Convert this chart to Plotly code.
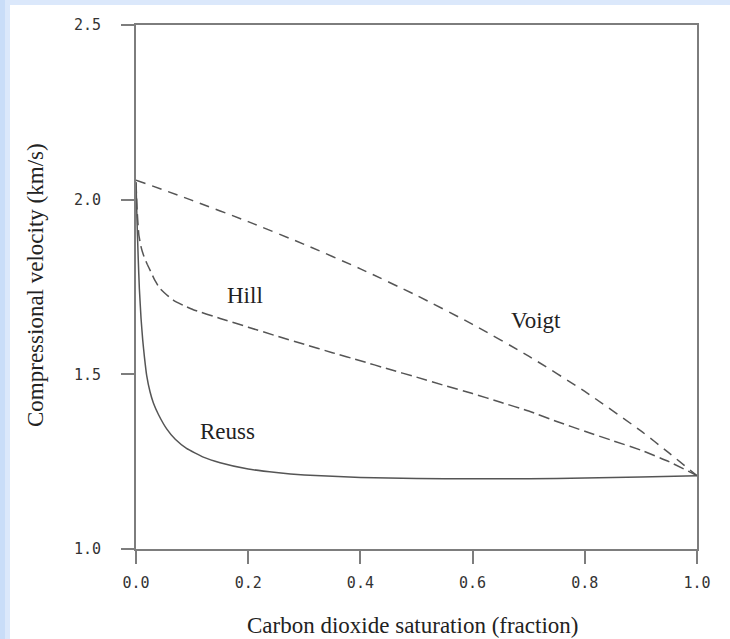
import plotly.graph_objects as go

# ---- data ----
reuss_x = [0.0, 0.002, 0.004, 0.006, 0.009, 0.012, 0.015, 0.019, 0.025, 0.031, 0.04, 0.055, 0.07, 0.09, 0.12, 0.15, 0.2, 0.25, 0.3, 0.4, 0.5, 0.6, 0.7, 0.8, 0.9, 1.0]
reuss_y = [2.05, 1.93, 1.83, 1.745, 1.66, 1.598, 1.55, 1.497, 1.45, 1.418, 1.385, 1.343, 1.314, 1.288, 1.263, 1.247, 1.229, 1.219, 1.212, 1.205, 1.202, 1.201, 1.201, 1.203, 1.206, 1.21]

hill_x = [0.0, 0.002, 0.005, 0.009, 0.013, 0.02, 0.026, 0.034, 0.042, 0.055, 0.067, 0.085, 0.102, 0.15, 0.2, 0.25, 0.3, 0.35, 0.4, 0.45, 0.5, 0.55, 0.6, 0.65, 0.7, 0.75, 0.8, 0.85, 0.9, 0.95, 1.0]
hill_y = [2.05, 1.97, 1.90, 1.865, 1.843, 1.815, 1.795, 1.768, 1.747, 1.727, 1.712, 1.697, 1.685, 1.66, 1.635, 1.61, 1.586, 1.562, 1.539, 1.515, 1.492, 1.468, 1.445, 1.42, 1.395, 1.365, 1.337, 1.31, 1.283, 1.25, 1.21]

voigt_x = [0.0, 0.1, 0.2, 0.3, 0.4, 0.5, 0.6, 0.7, 0.8, 0.9, 0.95, 1.0]
voigt_y = [2.056, 1.998, 1.937, 1.872, 1.802, 1.726, 1.643, 1.552, 1.451, 1.338, 1.275, 1.21]

labels = ["Hill", "Voigt", "Reuss"]
label_x = [0.194, 0.713, 0.163]
label_y = [1.727, 1.653, 1.335]

x_ticks = [0.0, 0.2, 0.4, 0.6, 0.8, 1.0]
x_ticktext = ["0.0", "0.2", "0.4", "0.6", "0.8", "1.0"]
y_ticks = [1.0, 1.5, 2.0, 2.5]
y_ticktext = ["1.0", "1.5", "2.0", "2.5"]

# ---- layout geometry (pixels) ----
W, H = 730, 639
L, R, T, B = 136, 697, 25, 549
pw, ph = R - L, B - T

def px2x(px):
    return (px - L) / pw

def py2y(py):
    return (B - py) / ph

line_col = "#555555"
axis_col = "#7d7d7d"
serif = "Liberation Serif, Times New Roman, serif"

fig = go.Figure()
fig.add_trace(go.Scatter(x=reuss_x, y=reuss_y, mode="lines", line=dict(color=line_col, width=1.5, shape="spline", smoothing=0.4), showlegend=False))
fig.add_trace(go.Scatter(x=hill_x, y=hill_y, mode="lines", line=dict(color=line_col, width=1.5, dash="11px,5px", shape="spline", smoothing=0.4), showlegend=False))
fig.add_trace(go.Scatter(x=voigt_x, y=voigt_y, mode="lines", line=dict(color=line_col, width=1.5, dash="10px,7px", shape="spline", smoothing=0.6), showlegend=False))

for t, xx, yy in zip(labels, label_x, label_y):
    fig.add_annotation(x=xx, y=yy, text=t, showarrow=False, font=dict(family=serif, size=23, color="#222222"), xanchor="center", yanchor="middle")

# axis titles
fig.add_annotation(xref="paper", yref="paper", x=px2x(412), y=py2y(625), text="Carbon dioxide saturation (fraction)", showarrow=False,
                   font=dict(family=serif, size=23, color="#222222"), xanchor="center", yanchor="middle")
fig.add_annotation(xref="paper", yref="paper", x=px2x(35), y=py2y(285), text="Compressional velocity (km/s)", showarrow=False, textangle=-90,
                   font=dict(family=serif, size=23, color="#222222"), xanchor="center", yanchor="middle")

# background: light-blue frame on the left and top, white panel
fig.add_shape(type="rect", xref="paper", yref="paper", x0=px2x(10), x1=px2x(W + 5), y0=py2y(H + 5), y1=py2y(5),
              fillcolor="white", line=dict(width=0), layer="below")
fig.add_shape(type="rect", xref="paper", yref="paper", x0=px2x(-2), x1=px2x(5), y0=py2y(H + 5), y1=py2y(-2),
              fillcolor="#c9ddf8", line=dict(width=0), layer="below")

axis_common = dict(showgrid=False, zeroline=False, showline=True, mirror=True, linecolor=axis_col, linewidth=1.8,
                   ticks="outside", ticklen=13, tickwidth=1.8, tickcolor=axis_col,
                   tickfont=dict(family="DejaVu Sans Mono, monospace", size=15, color="#333333"))

fig.update_xaxes(range=[0, 1], tickvals=x_ticks, ticktext=x_ticktext, ticklabelstandoff=6, **axis_common)
fig.update_yaxes(range=[1.0, 2.5], tickvals=y_ticks, ticktext=y_ticktext, ticklabelstandoff=17, **axis_common)

fig.update_layout(width=W, height=H, margin=dict(l=L, r=W - R, t=T, b=H - B, autoexpand=False),
                  paper_bgcolor="#dbe8fb", plot_bgcolor="white", showlegend=False)

fig.write_html("out.html")
